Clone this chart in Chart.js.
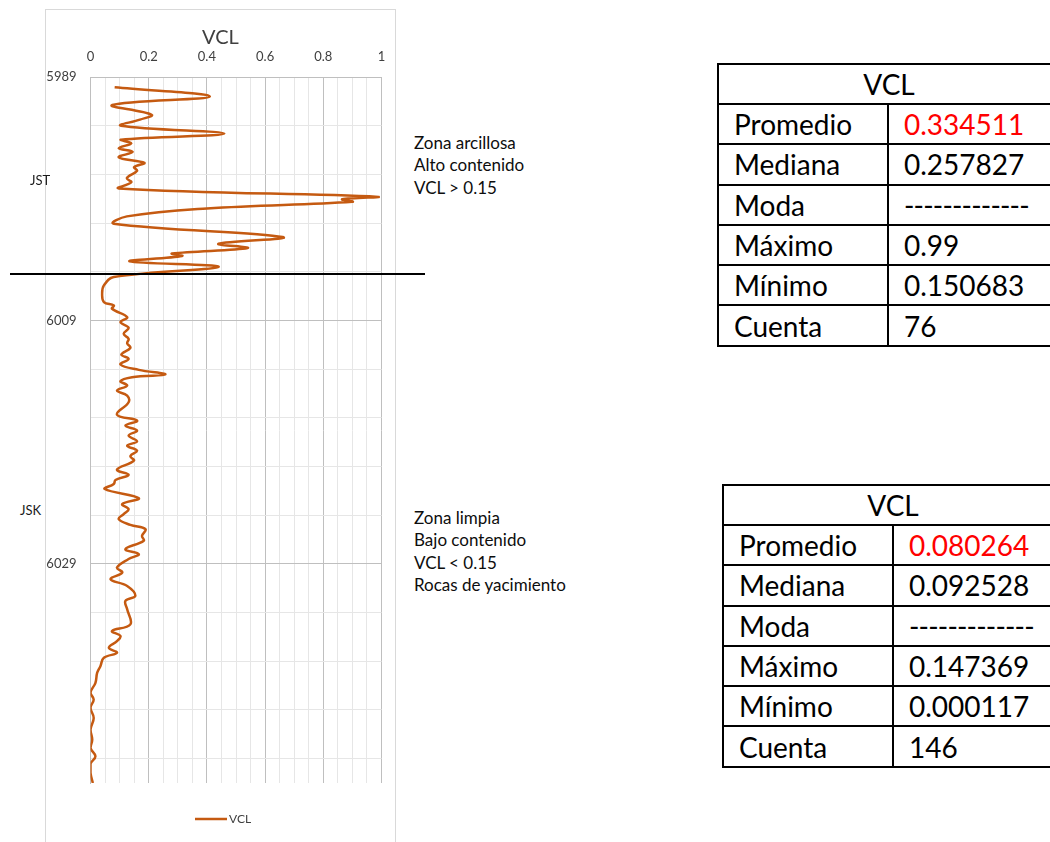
<!DOCTYPE html>
<html><head><meta charset="utf-8">
<script src="https://cdn.jsdelivr.net/npm/chart.js@4.4.1/dist/chart.umd.min.js"></script>
<style>
html,body{margin:0;padding:0;background:#fff;width:1050px;height:842px;overflow:hidden;font-family:Lato,"Open Sans",sans-serif;}
#frame{position:absolute;left:45px;top:9px;width:351px;height:845px;border:1px solid #d9d9d9;box-sizing:border-box;}
#c{position:absolute;left:46px;top:10px;}
.zl{position:absolute;font-size:13px;color:#1a1a1a;line-height:13px;}
.note{position:absolute;left:414px;font-size:17px;color:#0d0d0d;line-height:22.6px;white-space:nowrap;}
#sep{position:absolute;left:10px;top:273px;width:415px;height:1.5px;background:#000;}
table.st{position:absolute;border-collapse:collapse;table-layout:fixed;font-size:28px;color:#000;}
table.st td{border:2px solid #000;padding:0 0 0 15px;white-space:nowrap;overflow:hidden;line-height:1;}
table.st td.h{text-align:center;padding:0;}
table.st td.red{color:#ff0000;}
table.st td.dash{letter-spacing:-0.8px;}
</style>
</head><body>
<div id="frame"></div>
<canvas id="c" width="349" height="832"></canvas>
<div class="zl" style="left:30px;top:173.5px;">JST</div>
<div class="zl" style="left:20px;top:503.5px;">JSK</div>
<div class="note" style="top:131.7px;">Zona arcillosa<br>Alto contenido<br>VCL &gt; 0.15</div>
<div class="note" style="top:506.7px;">Zona limpia<br>Bajo contenido<br>VCL &lt; 0.15<br>Rocas de yacimiento</div>
<div id="sep"></div>
<div id="tables"></div>
<script>
// ---- data (depth in ft, VCL fraction) ----
const depthFt = [
  5989.85,5990.60,5991.30,5992.10,5992.50,5993.00,5993.65,5994.15,5994.45,5994.85,
  5995.15,5995.60,5996.05,5996.40,5996.70,5997.30,5997.65,5998.15,5998.85,5999.05,
  5999.25,5999.80,6000.45,6001.05,6002.15,6002.70,6003.05,6003.50,6003.70,6004.15,
  6004.60,6005.43,
  6006.12,6006.81,6007.49,6007.77,6008.04,6008.73,6009.14,6009.60,6010.10,6010.51,
  6010.87,6011.25,6011.80,6012.16,6012.62,6013.06,6013.44,6013.66,6013.99,6014.35,
  6014.76,6015.17,6015.72,6016.74,6017.23,6017.64,6018.05,6018.46,6018.93,6019.29,
  6019.70,6020.14,6020.52,6021.26,6021.68,6022.11,6022.44,6022.85,6023.60,6024.09,
  6024.50,6024.91,6025.32,6025.79,6026.15,6026.70,6027.10,6027.79,6028.20,6028.60,
  6029.30,6029.71,6030.26,6030.81,6031.63,6032.04,6032.73,6033.97,6034.51,6034.93,
  6035.34,6035.89,6036.30,6036.71,6037.40,6037.94,6038.77,6039.59,6040.14,6040.82,
  6041.65,6042.61,6043.43,6044.12,6044.80,6045.41,6046.17,6047.00
];
const vclValues = [
  0.083,0.410,0.075,0.210,0.170,0.105,0.460,0.105,0.140,0.097,
  0.145,0.097,0.185,0.150,0.160,0.125,0.140,0.097,0.990,0.865,
  0.900,0.400,0.125,0.080,0.660,0.440,0.540,0.280,0.315,0.135,
  0.440,0.080,
  0.046,0.040,0.046,0.080,0.074,0.126,0.103,0.131,0.114,0.131,
  0.126,0.137,0.106,0.131,0.103,0.166,0.257,0.143,0.103,0.126,
  0.091,0.126,0.131,0.091,0.160,0.120,0.160,0.131,0.160,0.126,
  0.160,0.137,0.149,0.091,0.131,0.086,0.080,0.049,0.166,0.109,
  0.131,0.114,0.097,0.137,0.189,0.177,0.183,0.120,0.166,0.131,
  0.091,0.109,0.069,0.126,0.154,0.120,0.126,0.137,0.074,0.103,
  0.091,0.063,0.091,0.046,0.034,0.023,0.017,0.000,0.011,0.000,
  0.011,0.000,0.006,0.000,0.017,0.000,0.000,0.008
];
const seriesName = 'VCL';
const xGridValues = [0,0.05,0.1,0.15,0.2,0.25,0.3,0.35,0.4,0.45,0.5,0.55,0.6,0.65,0.7,0.75,0.8,0.85,0.9,0.95,1];
const xLabelValues = [0,0.2,0.4,0.6,0.8,1];
const yGridValues = [5989,5993,5997,6001,6005,6009,6013,6017,6021,6025,6029,6033,6037,6041,6045];
const yLabelValues = [5989,6009,6029];
const statNames = ['Promedio','Mediana','Moda','Máximo','Mínimo','Cuenta'];
const statsJST = ['0.334511','0.257827','-------------','0.99','0.150683','76'];
const statsJSK = ['0.080264','0.092528','-------------','0.147369','0.000117','146'];

// ---- tables ----
function buildTable(vals, left, top, width, col1){
  let h = '<table class="st" style="left:'+left+'px;top:'+top+'px;width:'+width+'px;">';
  h += '<colgroup><col style="width:'+col1+'px"><col style="width:'+(width-col1)+'px"></colgroup>';
  h += '<tr style="height:40px"><td class="h" colspan="2">VCL</td></tr>';
  statNames.forEach((n,i)=>{
    const cls = i===0 ? ' class="red"' : (vals[i].startsWith('---') ? ' class="dash"' : '');
    h += '<tr style="height:40.3px"><td>'+n+'</td><td'+cls+'>'+vals[i]+'</td></tr>';
  });
  h += '</table>';
  return h;
}
document.getElementById('tables').innerHTML =
  buildTable(statsJST, 717, 63, 342, 170) + buildTable(statsJSK, 722, 484, 340, 170);

// ---- chart ----
const near = (arr, v) => arr.some(a => Math.abs(a - v) < 1e-6);
const MAJOR = '#bfbfbf', MINOR = '#e6e6e6', TXT = '#404040';
const legendPlugin = {
  id: 'legendLine',
  afterDraw(chart){
    const ctx = chart.ctx, ds = chart.data.datasets[0];
    ctx.save();
    ctx.strokeStyle = ds.borderColor; ctx.lineWidth = 2.5;
    ctx.beginPath(); ctx.moveTo(149, 809); ctx.lineTo(181, 809); ctx.stroke();
    ctx.fillStyle = TXT; ctx.font = '12px Lato'; ctx.textBaseline = 'middle';
    ctx.fillText(ds.label, 183, 809.5);
    ctx.restore();
  }
};
new Chart(document.getElementById('c'), {
  type: 'scatter',
  data: { datasets: [{
    label: seriesName,
    data: depthFt.map((d,i) => ({x: vclValues[i], y: d})),
    showLine: true, borderColor: '#c55a11', borderWidth: 2.5,
    pointRadius: 0, tension: 0.4, fill: false
  }]},
  options: {
    responsive: false, animation: false, events: [],
    layout: { padding: { left: 0, right: 0, top: 0, bottom: 59 } },
    plugins: {
      legend: { display: false }, tooltip: { enabled: false },
      title: { display: true, text: seriesName, color: TXT,
               font: { family: 'Lato', size: 20, weight: 'normal' }, padding: { top: 16, bottom: 0 } }
    },
    scales: {
      x: {
        type: 'linear', position: 'top', min: 0, max: 1,
        afterBuildTicks: s => { s.ticks = xGridValues.map(v => ({value: v})); },
        afterFit: s => { s.height = 27; s.paddingLeft = 0; s.paddingRight = 0; },
        ticks: { autoSkip: false, maxRotation: 0, padding: 12, color: TXT,
                 font: { family: 'Lato', size: 13 },
                 callback: v => near(xLabelValues, v) ? String(Math.round(v*10)/10) : '' },
        grid: { drawTicks: false, color: c => near(xLabelValues, c.tick.value) ? MAJOR : MINOR },
        border: { color: MAJOR }
      },
      y: {
        type: 'linear', reverse: true, min: 5989, max: 6047,
        afterBuildTicks: s => { s.ticks = yGridValues.map(v => ({value: v})); },
        afterFit: s => { s.width = 44.5; s.paddingTop = 0; s.paddingBottom = 0; },
        ticks: { autoSkip: false, padding: 14, color: TXT,
                 font: { family: 'Lato', size: 13 },
                 callback: v => near(yLabelValues, v) ? String(v) : '' },
        grid: { drawTicks: false, color: c => near(yLabelValues, c.tick.value) ? MAJOR : MINOR },
        border: { color: MAJOR }
      },
      yR: {
        type: 'linear', position: 'right', display: true,
        ticks: { display: false }, grid: { display: false }, border: { display: false },
        afterFit: s => { s.width = 13.5; s.paddingTop = 0; s.paddingBottom = 0; }
      }
    }
  },
  plugins: [legendPlugin]
});
</script>
</body></html>
